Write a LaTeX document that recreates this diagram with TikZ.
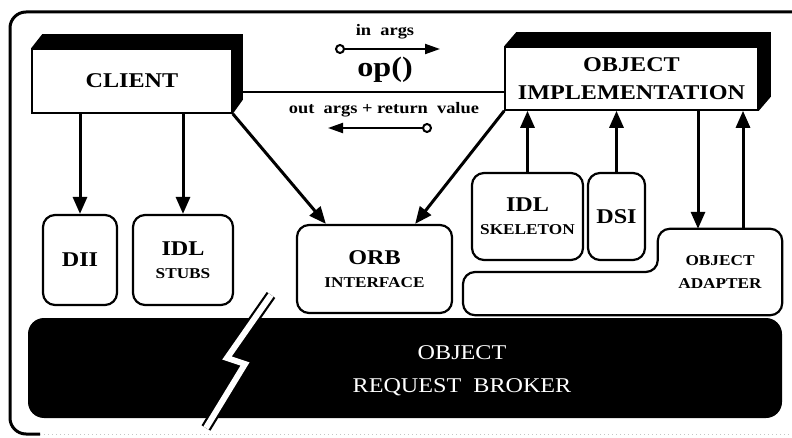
\documentclass[tikz,border=0pt]{standalone}
\usepackage{fontspec}
\setmainfont{Liberation Serif}[FakeStretch=1.15]
\usetikzlibrary{positioning, arrows.meta}

\newcommand{\smalltag}[1]{{\fontsize{15}{18}\selectfont #1}}

\begin{document}
\begin{tikzpicture}[x=1pt,y=1pt,yscale=-1,xscale=1,
    box/.style={draw, line width=2.2pt, rounded corners=12pt, fill=white, inner sep=0pt, align=center,
        font=\bfseries\fontsize{21}{23}\selectfont},
    solidbox/.style={draw, line width=1.6pt, fill=white, inner sep=0pt, align=center,
        font=\bfseries\fontsize{21}{28}\selectfont},
    call/.style={line width=3pt, -{Triangle[width=14pt,length=17pt]}},
    msg/.style={line width=2pt, {Circle[open,length=10pt,width=10pt,fill=white]}-{Triangle[width=10pt,length=15pt]}},
    msgtext/.style={font=\bfseries\fontsize{16}{18}\selectfont},
    bolt/.style={draw=black, double=white, line width=2.2pt, double distance=6pt, miter limit=20}]
    \useasboundingbox (0,0) rectangle (792,438);

    % outer frame (right side runs off the page)
    \draw[line width=3pt, rounded corners=16pt] (800,12) -- (10,12) -- (10,434) -- (40,434);
    \draw[gray!45, line width=1pt, dash pattern=on 1pt off 3pt] (40,434) -- (792,434);

    % client and object implementation, with their dark sides
    \node[solidbox, minimum width=200pt, minimum height=64pt] (client) at (132,81) {CLIENT};
    \fill (client.north west) -- ([shift={(11,-14)}]client.north west) -- ([shift={(10,-14)}]client.north east)
        -- ([shift={(10,-14)}]client.south east) -- (client.south east) -- (client.north east) -- cycle;

    \node[solidbox, minimum width=253pt, minimum height=63pt] (impl) at (631.5,78.5) {OBJECT\\IMPLEMENTATION};
    \fill (impl.north west) -- ([shift={(12,-14)}]impl.north west) -- ([shift={(12,-14)}]impl.north east)
        -- ([shift={(12,-14)}]impl.south east) -- (impl.south east) -- (impl.north east) -- cycle;

    % the call op() between them
    \draw[line width=2.4pt] ([shift={(10,11)}]client.east) coordinate (opL) -- (opL -| impl.west);
    \coordinate (inA) at (335,49);
    \coordinate (inB) at (440,49);
    \coordinate (outA) at (432,128);
    \coordinate (outB) at (328,128);
    \draw[msg] (inA) -- (inB);
    \draw[msg] (outA) -- (outB);
    \node[msgtext] (inargs) at (385,32) {in\ \ args};
    \node[font=\bfseries\fontsize{28}{30}\selectfont] (op) at (385,70) {op()};
    \node[msgtext] (outargs) at (384,110) {out\ \ args + return\ \ value};

    % core: object request broker
    \node[fill=black, rounded corners=16pt, minimum width=754pt, minimum height=100pt, inner sep=0pt] (orbcore) at (405,368) {};
    \node[text=white, align=center, font=\fontsize{21}{33}\selectfont] (broker) at (462,371) {OBJECT\\REQUEST\ \ BROKER};
    \draw[bolt] (271,295) -- (227,358) -- (245,364) -- (206,428);

    % client side interfaces
    \node[box, minimum width=74pt, minimum height=90pt] (dii) at (80,260) {DII};
    \node[box, minimum width=100pt, minimum height=90pt] (stubs) at (183,260) {IDL\\\smalltag{STUBS}};
    \node[box, minimum width=155pt, minimum height=88pt] (orb) at (374.5,269) {ORB\\\smalltag{INTERFACE}};

    % implementation side
    \node[box, minimum width=111pt, minimum height=87pt] (skel) at (527.5,216.5) {IDL\\\smalltag{SKELETON}};
    \node[box, minimum width=57pt, minimum height=87pt] (dsi) at (616.5,216.5) {DSI};
    \node[inner sep=0pt, minimum width=124pt, minimum height=86pt, align=center,
        font=\bfseries\fontsize{15}{23}\selectfont] (adapter) at (720,272) {OBJECT\\ADAPTER};
    \draw[line width=2.2pt, rounded corners=12pt] (adapter.south) -| (463,272) -| (adapter.north west)
        -- (adapter.north east) |- ([xshift=-4pt]adapter.south);

    % requests
    \draw[call] (dii.north |- client.south) -- (dii.north);
    \draw[call] (stubs.north |- client.south) -- (stubs.north);
    \draw[call] (client.south east) -- ([xshift=30pt]orb.north west);
    \draw[call] (impl.south west) -- ([xshift=-38pt]orb.north east);
    \draw[call] (skel.north) -- (skel.north |- impl.south);
    \draw[call] (dsi.north) -- (dsi.north |- impl.south);
    \coordinate (down) at ([xshift=-22pt]adapter.north);
    \coordinate (up) at ([xshift=23pt]adapter.north);
    \draw[call] (down |- impl.south) -- (down);
    \draw[call] (up) -- (up |- impl.south);

\end{tikzpicture}
\end{document}
